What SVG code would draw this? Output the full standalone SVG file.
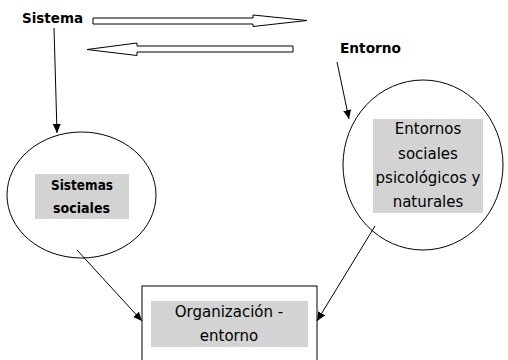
<svg xmlns="http://www.w3.org/2000/svg" width="508" height="360" viewBox="0 0 508 360">
<style>
.t{font-family:"DejaVu Sans",Verdana,sans-serif;fill:#000}
.b{font-weight:bold}
.n{font-size:15px;text-anchor:middle}
.line{stroke:#000;stroke-width:1;fill:none}
.shape{stroke:#000;stroke-width:1;fill:#fff}
.gray{fill:#d3d3d3}
.blk{stroke:#000;stroke-width:1;fill:#fff}
</style>
<defs>
<marker id="ah" markerWidth="10" markerHeight="10" refX="9" refY="5" orient="auto" markerUnits="userSpaceOnUse">
<path d="M0,1 L9,5 L0,9 Z" fill="#000"/>
</marker>
</defs>
<rect width="508" height="360" fill="#fff"/>
<g id="sistema-label">
<text class="t b" x="22" y="23" font-size="14" textLength="61" lengthAdjust="spacingAndGlyphs">Sistema</text>
</g>
<g id="entorno-label">
<text class="t b" x="340" y="53" font-size="14" textLength="61" lengthAdjust="spacingAndGlyphs">Entorno</text>
</g>
<g id="block-arrows">
<polygon class="blk" points="93,18 253,18 253,15 307,20.5 253,26.5 253,24 93,24"/>
<polygon class="blk" points="293,46 137,46 137,43 87,49.5 137,55.5 137,52 293,52"/>
</g>
<g id="sistemas-sociales">
<ellipse class="shape" cx="81.5" cy="195" rx="74.5" ry="63"/>
<rect class="gray" x="35" y="174" width="94" height="45"/>
<text class="t b" x="51" y="190" font-size="13.5" textLength="62" lengthAdjust="spacingAndGlyphs">Sistemas</text>
<text class="t b" x="53" y="213" font-size="13.5" textLength="57" lengthAdjust="spacingAndGlyphs">sociales</text>
</g>
<g id="entornos-sociales">
<ellipse class="shape" cx="423" cy="165" rx="80" ry="85"/>
<rect class="gray" x="373" y="119" width="110" height="94"/>
<text class="t n" x="428" y="134">Entornos</text>
<text class="t n" x="428" y="159">sociales</text>
<text class="t n" x="428" y="183">psicológicos y</text>
<text class="t n" x="428" y="207">naturales</text>
</g>
<g id="organizacion-entorno">
<rect class="shape" x="142" y="286" width="175" height="80"/>
<rect class="gray" x="151" y="301" width="157" height="46"/>
<text class="t n" x="229" y="317">Organización -</text>
<text class="t n" x="229" y="341">entorno</text>
</g>
<g id="connectors">
<line class="line" x1="54" y1="28" x2="57" y2="133" marker-end="url(#ah)"/>
<line class="line" x1="337" y1="62" x2="349" y2="119" marker-end="url(#ah)"/>
<line class="line" x1="77" y1="250" x2="142" y2="321" marker-end="url(#ah)"/>
<line class="line" x1="375" y1="226" x2="317" y2="321" marker-end="url(#ah)"/>
</g>
</svg>
